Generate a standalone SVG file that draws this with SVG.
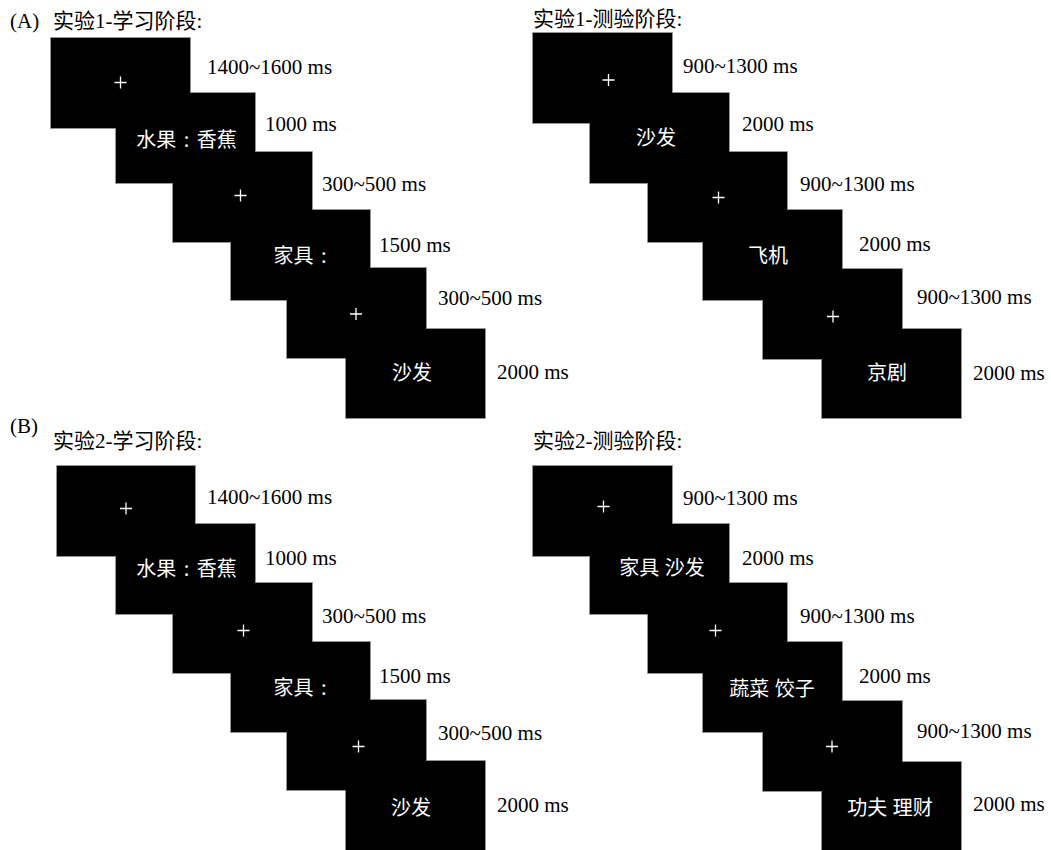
<svg xmlns="http://www.w3.org/2000/svg" width="1051" height="850" viewBox="0 0 1051 850">
<defs>
<style>
.bg{fill:#ffffff}
.edge{fill:none;stroke:#7a7a7a;stroke-width:1.6}
.scr{fill:#000000}
.lab{font-family:"Liberation Serif","Noto Sans CJK SC",serif;font-size:21px;fill:#000000}
.ttl{font-family:"Liberation Serif","Noto Sans CJK SC",serif;font-size:21px;fill:#000000}
.stim{font-family:"Noto Sans CJK SC","Liberation Serif",sans-serif;font-size:20px;fill:#ffffff;text-anchor:middle}
.fix{stroke:#ffffff;stroke-width:1.3;fill:none}
</style>
<path id="plus" d="M-6 0H6M0 -6V6"/>
</defs>
<rect class="bg" x="0" y="0" width="1051" height="850"/>

<!-- outlines beneath screens -->
<g id="outlines" class="edge">
<rect x="51" y="38" width="139" height="90"/><rect x="116" y="93" width="139" height="90"/><rect x="173" y="152" width="139" height="90"/><rect x="231" y="210" width="139" height="90"/><rect x="287" y="268" width="139" height="90"/><rect x="346" y="329" width="139" height="89"/>
<rect x="533" y="33" width="139" height="90"/><rect x="590" y="93" width="139" height="90"/><rect x="648" y="152" width="139" height="90"/><rect x="703" y="210" width="139" height="90"/><rect x="763" y="269" width="139" height="90"/><rect x="822" y="329" width="139" height="89"/>
<rect x="57" y="466" width="138" height="90"/><rect x="116" y="524" width="139" height="90"/><rect x="173" y="583" width="139" height="90"/><rect x="231" y="642" width="139" height="90"/><rect x="287" y="700" width="139" height="90"/><rect x="346" y="761" width="139" height="95"/>
<rect x="533" y="466" width="139" height="90"/><rect x="590" y="524" width="139" height="90"/><rect x="648" y="583" width="139" height="90"/><rect x="703" y="642" width="139" height="90"/><rect x="763" y="701" width="139" height="90"/><rect x="822" y="762" width="139" height="95"/>
</g>

<!-- titles -->
<g id="titles" class="ttl">
<text x="10" y="28">(A)</text>
<text x="53" y="28">实验1-学习阶段:</text>
<text x="533" y="26">实验1-测验阶段:</text>
<text x="10" y="433">(B)</text>
<text x="53" y="448">实验2-学习阶段:</text>
<text x="533" y="448">实验2-测验阶段:</text>
</g>

<!-- Experiment 1 learning -->
<g id="a-learn-1"><rect class="scr" x="51" y="38" width="139" height="90"/><use href="#plus" class="fix" x="120.5" y="82.5"/></g>
<g id="a-learn-2"><rect class="scr" x="116" y="93" width="139" height="90"/><text class="stim" x="186.5" y="147" word-spacing="3">水果 : 香蕉</text></g>
<g id="a-learn-3"><rect class="scr" x="173" y="152" width="139" height="90"/><use href="#plus" class="fix" x="240.5" y="195.5"/></g>
<g id="a-learn-4"><rect class="scr" x="231" y="210" width="139" height="90"/><text class="stim" x="300" y="263" word-spacing="3">家具 :</text></g>
<g id="a-learn-5"><rect class="scr" x="287" y="268" width="139" height="90"/><use href="#plus" class="fix" x="356" y="314"/></g>
<g id="a-learn-6"><rect class="scr" x="346" y="329" width="139" height="89"/><text class="stim" x="412" y="380">沙发</text></g>

<!-- Experiment 1 test -->
<g id="a-test-1"><rect class="scr" x="533" y="33" width="139" height="90"/><use href="#plus" class="fix" x="608.5" y="80"/></g>
<g id="a-test-2"><rect class="scr" x="590" y="93" width="139" height="90"/><text class="stim" x="656" y="145">沙发</text></g>
<g id="a-test-3"><rect class="scr" x="648" y="152" width="139" height="90"/><use href="#plus" class="fix" x="718.5" y="197.5"/></g>
<g id="a-test-4"><rect class="scr" x="703" y="210" width="139" height="90"/><text class="stim" x="768" y="263">飞机</text></g>
<g id="a-test-5"><rect class="scr" x="763" y="269" width="139" height="90"/><use href="#plus" class="fix" x="833" y="316.5"/></g>
<g id="a-test-6"><rect class="scr" x="822" y="329" width="139" height="89"/><text class="stim" x="887" y="380">京剧</text></g>

<!-- Experiment 2 learning -->
<g id="b-learn-1"><rect class="scr" x="57" y="466" width="138" height="90"/><use href="#plus" class="fix" x="126" y="508.5"/></g>
<g id="b-learn-2"><rect class="scr" x="116" y="524" width="139" height="90"/><text class="stim" x="186.5" y="576" word-spacing="3">水果 : 香蕉</text></g>
<g id="b-learn-3"><rect class="scr" x="173" y="583" width="139" height="90"/><use href="#plus" class="fix" x="243.5" y="630.5"/></g>
<g id="b-learn-4"><rect class="scr" x="231" y="642" width="139" height="90"/><text class="stim" x="300" y="695" word-spacing="3">家具 :</text></g>
<g id="b-learn-5"><rect class="scr" x="287" y="700" width="139" height="90"/><use href="#plus" class="fix" x="358.5" y="746.5"/></g>
<g id="b-learn-6"><rect class="scr" x="346" y="761" width="139" height="95"/><text class="stim" x="411" y="815">沙发</text></g>

<!-- Experiment 2 test -->
<g id="b-test-1"><rect class="scr" x="533" y="466" width="139" height="90"/><use href="#plus" class="fix" x="603.5" y="506.5"/></g>
<g id="b-test-2"><rect class="scr" x="590" y="524" width="139" height="90"/><text class="stim" x="662" y="575" word-spacing="1">家具 沙发</text></g>
<g id="b-test-3"><rect class="scr" x="648" y="583" width="139" height="90"/><use href="#plus" class="fix" x="715.5" y="630.5"/></g>
<g id="b-test-4"><rect class="scr" x="703" y="642" width="139" height="90"/><text class="stim" x="772" y="696" word-spacing="1">蔬菜 饺子</text></g>
<g id="b-test-5"><rect class="scr" x="763" y="701" width="139" height="90"/><use href="#plus" class="fix" x="832" y="746.5"/></g>
<g id="b-test-6"><rect class="scr" x="822" y="762" width="139" height="95"/><text class="stim" x="890" y="815" word-spacing="1">功夫 理财</text></g>

<!-- duration labels -->
<g id="durations" class="lab">
<text x="207" y="74">1400~1600 ms</text>
<text x="265" y="131">1000 ms</text>
<text x="322" y="191">300~500 ms</text>
<text x="379" y="252">1500 ms</text>
<text x="438" y="305">300~500 ms</text>
<text x="497" y="379">2000 ms</text>
<text x="683" y="73">900~1300 ms</text>
<text x="742" y="131">2000 ms</text>
<text x="800" y="191">900~1300 ms</text>
<text x="859" y="251">2000 ms</text>
<text x="917" y="304">900~1300 ms</text>
<text x="973" y="380">2000 ms</text>
<text x="207" y="504">1400~1600 ms</text>
<text x="265" y="565">1000 ms</text>
<text x="322" y="623">300~500 ms</text>
<text x="379" y="683">1500 ms</text>
<text x="438" y="740">300~500 ms</text>
<text x="497" y="812">2000 ms</text>
<text x="683" y="505">900~1300 ms</text>
<text x="742" y="565">2000 ms</text>
<text x="800" y="623">900~1300 ms</text>
<text x="859" y="683">2000 ms</text>
<text x="917" y="738">900~1300 ms</text>
<text x="973" y="811">2000 ms</text>
</g>
</svg>
